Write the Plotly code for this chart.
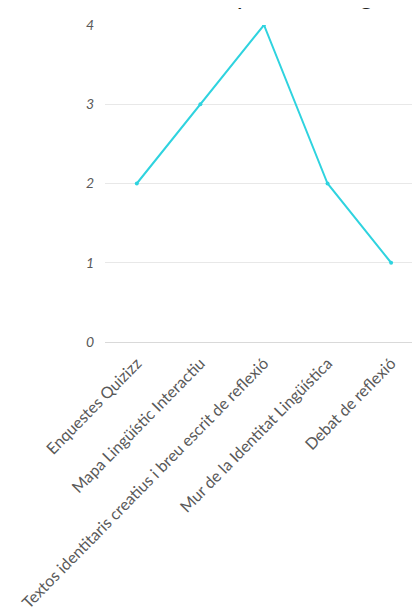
import plotly.graph_objects as go

categories = [
    "Enquestes Quizizz",
    "Mapa Lingüístic Interactiu",
    "Textos identitaris creatius i breu escrit de reflexió",
    "Mur de la Identitat Lingüística",
    "Debat de reflexió",
]
values = [2, 3, 4, 2, 1]
y_ticks = [0, 1, 2, 3, 4]
title_text = "Quantitat d'ús per estratègia"

fig = go.Figure()
fig.add_trace(go.Scatter(
    x=categories, y=values, mode="lines+markers",
    line=dict(color="#2fd3df", width=2),
    marker=dict(color="#2fd3df", size=4),
    showlegend=False,
))

fig.add_annotation(
    text=title_text, xref="paper", yref="paper", x=-0.12, y=1,
    xanchor="left", yanchor="bottom", yshift=13, showarrow=False,
    font=dict(family="Lato", size=26, color="#222222"),
)

fig.update_layout(
    width=420, height=611,
    margin=dict(l=97, r=0, t=17, b=277, autoexpand=False),
    paper_bgcolor="white", plot_bgcolor="white",
    font=dict(family="Lato", color="#595959"),
)
fig.update_xaxes(
    range=[-0.5, 4.58], tickangle=-45.5, showgrid=False, showline=False,
    tickfont=dict(family="Lato", size=16, color="#595959"),
    ticks="", zeroline=False, ticklabelstandoff=8, automargin=False,
)
fig.update_yaxes(
    range=[0, 4], tickvals=y_ticks, showgrid=True, gridcolor="#e8e8e8",
    gridwidth=1, zeroline=True, zerolinecolor="#d9d9d9", zerolinewidth=1,
    ticks="", ticklabelstandoff=10, automargin=False,
    tickfont=dict(family="Lato", size=14, color="#595959", style="italic"),
)

fig.write_html("out.html")
